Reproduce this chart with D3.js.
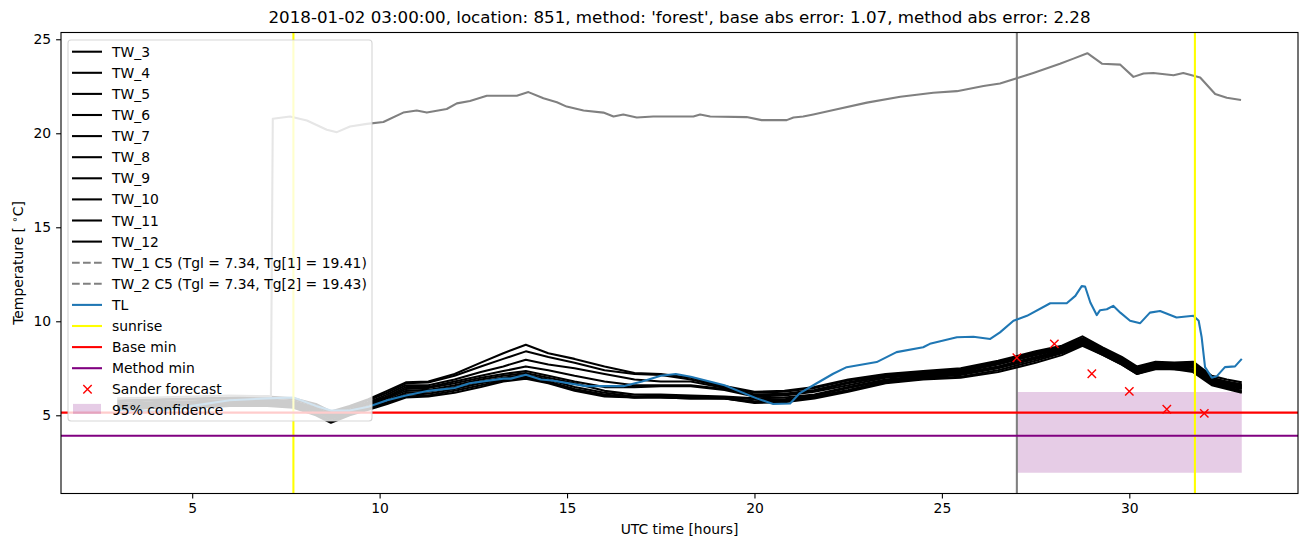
<!DOCTYPE html>
<html>
<head>
<meta charset="utf-8">
<script src="https://cdn.jsdelivr.net/npm/d3@7"></script>
<style>
  body { margin: 0; background: #fff; }
  text { font-family: "DejaVu Sans", sans-serif; fill: #000; }
</style>
</head>
<body>
<svg id="chart" width="1310" height="547"></svg>
<script>
// ---- data ----
const TITLE = "2018-01-02 03:00:00, location: 851, method: 'forest', base abs error: 1.07, method abs error: 2.28";

const twHours = [3, 4, 5, 6, 7, 7.7, 8.3, 8.7, 9.2, 9.7, 10.2, 10.7, 11.3, 12, 12.7, 13.3, 13.9, 14.5, 15.2, 16,
  16.8, 17.5, 18.3, 19.2, 20, 20.8, 21.6, 22.5, 23.5, 24.5, 25.5, 26.5, 27.5, 28.2, 28.75, 29.3, 29.8, 30.2, 30.7,
  31.2, 31.7, 32.2, 32.6, 33];

const tw3 = [5.8, 5.85, 5.9, 5.95, 6.0, 5.9, 5.6, 5.2, 5.5, 5.85, 6.3, 6.75, 6.8, 7.2, 7.8, 8.3, 8.75, 8.3, 8.0, 7.6,
  7.25, 7.2, 7.0, 6.55, 6.25, 6.3, 6.5, 6.9, 7.2, 7.35, 7.5, 7.9, 8.4, 8.7, 9.2, 8.6, 8.1, 7.6, 7.85, 7.8, 7.85, 7.1, 6.9, 6.75];
const tw4 = [5.7, 5.8, 5.85, 5.9, 5.95, 5.85, 5.5, 5.1, 5.45, 5.8, 6.2, 6.7, 6.75, 7.1, 7.6, 8.0, 8.4, 8.1, 7.8, 7.4,
  7.2, 7.15, 6.9, 6.5, 6.2, 6.25, 6.45, 6.85, 7.15, 7.3, 7.45, 7.85, 8.35, 8.65, 9.1, 8.55, 8.05, 7.55, 7.8, 7.75, 7.8, 7.0, 6.8, 6.65];
const tw5 = [5.6, 5.7, 5.75, 5.8, 5.85, 5.75, 5.4, 5.0, 5.4, 5.7, 6.1, 6.6, 6.6, 6.9, 7.3, 7.6, 7.95, 7.7, 7.5, 7.2,
  6.9, 6.8, 6.8, 6.45, 6.1, 6.15, 6.35, 6.75, 7.1, 7.25, 7.4, 7.8, 8.3, 8.6, 9.05, 8.5, 8.0, 7.5, 7.75, 7.7, 7.75, 6.95, 6.75, 6.6];
const tw6 = [5.55, 5.65, 5.7, 5.75, 5.8, 5.7, 5.35, 4.95, 5.3, 5.65, 6.0, 6.5, 6.5, 6.8, 7.1, 7.35, 7.6, 7.4, 7.1, 6.8,
  6.6, 6.6, 6.6, 6.4, 6.05, 6.1, 6.3, 6.7, 7.05, 7.2, 7.35, 7.75, 8.25, 8.55, 9.0, 8.45, 7.95, 7.45, 7.7, 7.65, 7.7, 6.9, 6.7, 6.55];
const tw7 = [5.5, 5.6, 5.65, 5.7, 5.75, 5.65, 5.3, 4.9, 5.25, 5.6, 5.95, 6.4, 6.45, 6.7, 7.0, 7.2, 7.35, 7.1, 6.8, 6.5,
  6.5, 6.55, 6.55, 6.35, 6.0, 6.05, 6.25, 6.6, 7.0, 7.15, 7.3, 7.7, 8.2, 8.5, 8.95, 8.4, 7.9, 7.4, 7.65, 7.6, 7.65, 6.85, 6.65, 6.5];
const tw8 = [5.45, 5.55, 5.6, 5.65, 5.7, 5.6, 5.25, 4.85, 5.2, 5.5, 5.9, 6.3, 6.35, 6.6, 6.9, 7.1, 7.25, 7.0, 6.7, 6.3,
  6.1, 6.1, 6.05, 6.0, 5.9, 5.95, 6.1, 6.5, 6.9, 7.1, 7.25, 7.6, 8.1, 8.45, 8.9, 8.35, 7.85, 7.35, 7.6, 7.55, 7.6, 6.8, 6.6, 6.45];
const tw9 = [5.4, 5.5, 5.55, 5.6, 5.65, 5.55, 5.2, 4.8, 5.15, 5.45, 5.8, 6.2, 6.25, 6.5, 6.8, 7.0, 7.15, 6.9, 6.5, 6.2,
  6.0, 6.05, 6.0, 5.95, 5.85, 5.85, 6.05, 6.45, 6.85, 7.05, 7.2, 7.55, 8.05, 8.4, 8.85, 8.3, 7.8, 7.3, 7.55, 7.5, 7.55, 6.75, 6.55, 6.4];
const tw10 = [5.35, 5.45, 5.5, 5.55, 5.6, 5.5, 5.1, 4.7, 5.1, 5.4, 5.7, 6.1, 6.15, 6.4, 6.7, 6.9, 7.05, 6.8, 6.4, 6.1,
  5.95, 6.0, 5.95, 5.9, 5.75, 5.8, 6.0, 6.35, 6.8, 7.0, 7.15, 7.5, 8.0, 8.35, 8.8, 8.25, 7.75, 7.25, 7.5, 7.5, 7.45, 6.7, 6.5, 6.3];
const tw11 = [5.3, 5.4, 5.45, 5.5, 5.55, 5.45, 5.05, 4.65, 5.05, 5.35, 5.65, 6.0, 6.05, 6.3, 6.6, 6.85, 7.0, 6.75, 6.35, 6.05,
  5.95, 5.95, 5.9, 5.9, 5.7, 5.75, 5.95, 6.3, 6.75, 6.95, 7.05, 7.4, 7.9, 8.3, 8.75, 8.2, 7.7, 7.2, 7.5, 7.45, 7.4, 6.65, 6.45, 6.25];
const tw12 = [5.3, 5.4, 5.4, 5.5, 5.5, 5.4, 5.0, 4.6, 5.0, 5.3, 5.6, 5.95, 6.0, 6.2, 6.5, 6.8, 6.95, 6.7, 6.3, 6.0,
  5.95, 5.95, 5.9, 5.9, 5.65, 5.7, 5.9, 6.25, 6.7, 6.9, 7.0, 7.3, 7.8, 8.2, 8.7, 8.2, 7.7, 7.2, 7.45, 7.45, 7.3, 6.6, 6.4, 6.2];

const twNames = ["TW_3", "TW_4", "TW_5", "TW_6", "TW_7", "TW_8", "TW_9", "TW_10", "TW_11", "TW_12"];
const twValues = [tw3, tw4, tw5, tw6, tw7, tw8, tw9, tw10, tw11, tw12];

const grayHours = [3, 4, 5, 6, 7.1, 7.15, 7.61, 8.06, 8.59, 8.86, 9.21, 9.66, 10.1, 10.63, 10.99, 11.26, 11.79, 12.06,
  12.41, 12.86, 13.66, 13.97, 14.37, 14.73, 14.99, 15.44, 15.97, 16.24, 16.5, 16.86, 17.3, 18.37, 18.55, 18.82, 19.79,
  20.19, 20.86, 21.04, 21.3, 21.57, 22.11, 23.0, 23.89, 24.77, 25.4, 26.11, 26.55, 27.04, 27.44, 28.15, 28.51, 28.88,
  29.27, 29.76, 30.11, 30.38, 30.64, 31.18, 31.44, 31.89, 32.29, 32.6, 32.98];
const grayTemps = [5.9, 5.95, 6.0, 6.05, 6.0, 20.77, 20.89, 20.68, 20.19, 20.06, 20.36, 20.5, 20.6, 21.1, 21.21, 21.1,
  21.29, 21.59, 21.72, 22.0, 22.0, 22.19, 21.86, 21.65, 21.42, 21.21, 21.1, 20.89, 21.0, 20.84, 20.89, 20.89, 21.0,
  20.89, 20.86, 20.7, 20.7, 20.84, 20.89, 21.0, 21.24, 21.63, 21.94, 22.16, 22.24, 22.51, 22.65, 22.95, 23.21, 23.7,
  23.97, 24.26, 23.7, 23.65, 23.0, 23.18, 23.21, 23.09, 23.21, 22.97, 22.09, 21.89, 21.77];

const tlHours = [3, 4, 5, 6, 7, 7.7, 8.3, 8.7, 9.2, 9.7, 10.2, 10.7, 11.3, 12, 12.4, 13.3, 13.5, 13.9, 14.3, 14.6, 15.5,
  16.5, 17.0, 17.5, 17.9, 18.3, 19.2, 20.06, 20.5, 20.95, 21.2, 21.65, 22.1, 22.46, 23.26, 23.79, 24.5, 24.68, 25.4,
  25.84, 26.29, 26.55, 26.91, 27.27, 27.89, 28.33, 28.56, 28.73, 28.82, 28.96, 29.13, 29.22, 29.4, 29.57, 29.76, 30.02,
  30.29, 30.55, 30.82, 31.26, 31.71, 31.85, 31.93, 32.02, 32.2, 32.33, 32.55, 32.82, 33.0];
const tlTemps = [5.3, 5.2, 5.5, 5.8, 5.9, 5.95, 5.5, 5.25, 5.25, 5.45, 5.8, 6.05, 6.3, 6.45, 6.7, 6.95, 6.95, 7.15, 6.9,
  6.85, 6.55, 6.55, 6.8, 7.1, 7.2, 7.05, 6.6, 5.9, 5.6, 5.63, 6.16, 6.69, 7.21, 7.56, 7.83, 8.36, 8.62, 8.8, 9.15, 9.18,
  9.06, 9.41, 10.03, 10.29, 10.96, 10.96, 11.35, 11.87, 11.85, 11.0, 10.33, 10.59, 10.64, 10.82, 10.46, 10.03, 9.9,
  10.46, 10.55, 10.2, 10.29, 10.03, 9.15, 7.56, 7.0, 7.07, 7.56, 7.6, 8.0];

const sunriseHours = [7.7, 31.75];
const forecastHour = 27;
const baseMin = 5.14;
const methodMin = 3.91;
const sanderHours = [27, 28, 29, 30, 31, 32];
const sanderTemps = [8.06, 8.8, 7.21, 6.27, 5.32, 5.1];
const confHours = [27, 33];
const confLow = [1.95, 1.95];
const confHigh = [6.24, 6.24];

const xTicks = [5, 10, 15, 20, 25, 30];
const yTicks = [5, 10, 15, 20, 25];

const legendItems = [
  ...twNames.map(n => ({ label: n, kind: 'line', color: '#000' })),
  { label: 'TW_1 C5 (Tgl = 7.34, Tg[1] = 19.41)', kind: 'dash', color: '#808080' },
  { label: 'TW_2 C5 (Tgl = 7.34, Tg[2] = 19.43)', kind: 'dash', color: '#808080' },
  { label: 'TL', kind: 'line', color: '#1f77b4' },
  { label: 'sunrise', kind: 'line', color: '#ffff00' },
  { label: 'Base min', kind: 'line', color: '#ff0000' },
  { label: 'Method min', kind: 'line', color: '#800080' },
  { label: 'Sander forecast', kind: 'x', color: '#ff0000' },
  { label: '95% confidence', kind: 'patch', color: 'rgba(128,0,128,0.2)' },
];

// ---- layout ----
const plot = { left: 61, right: 1298, top: 32.5, bottom: 493.5 };
const LW = 2.08;  // 1.5pt

const svg = d3.select('#chart');

const x = d3.scaleLinear().domain([1.5, 34.5]).range([plot.left, plot.right]);
const y = d3.scaleLinear().domain([0.84, 25.36]).range([plot.bottom, plot.top]);

const line = d3.line().x(d => x(d[0])).y(d => y(d[1]));
const pairs = (hs, vs) => hs.map((h, i) => [h, vs[i]]);

const g = svg.append('g');

// confidence band (below lines)
g.append('path')
  .attr('d', d3.area().x(d => x(d[0])).y0(d => y(d[1])).y1(d => y(d[2]))(
    confHours.map((h, i) => [h, confLow[i], confHigh[i]])))
  .attr('fill', 'rgba(128,0,128,0.2)');

// forecast time marker
g.append('line')
  .attr('x1', x(forecastHour)).attr('x2', x(forecastHour))
  .attr('y1', plot.top).attr('y2', plot.bottom)
  .attr('stroke', '#808080').attr('stroke-width', LW);

// wall sensor lines
g.selectAll('path.tw')
  .data(twValues)
  .enter()
  .append('path')
  .attr('class', 'tw')
  .attr('d', vs => line(pairs(twHours, vs)))
  .attr('fill', 'none')
  .attr('stroke', '#000')
  .attr('stroke-width', LW)
  .attr('stroke-linejoin', 'round');

g.append('path')
  .attr('d', line(pairs(grayHours, grayTemps)))
  .attr('fill', 'none').attr('stroke', '#808080').attr('stroke-width', LW)
  .attr('stroke-linejoin', 'round');

g.append('path')
  .attr('d', line(pairs(tlHours, tlTemps)))
  .attr('fill', 'none').attr('stroke', '#1f77b4').attr('stroke-width', LW)
  .attr('stroke-linejoin', 'round');

// sunrise
g.selectAll('line.sunrise')
  .data(sunriseHours)
  .enter()
  .append('line')
  .attr('class', 'sunrise')
  .attr('x1', d => x(d)).attr('x2', d => x(d))
  .attr('y1', plot.top).attr('y2', plot.bottom)
  .attr('stroke', '#ffff00').attr('stroke-width', LW);

// horizontal minima
[[baseMin, '#ff0000'], [methodMin, '#800080']].forEach(([v, c]) => {
  g.append('line')
    .attr('x1', plot.left).attr('x2', plot.right)
    .attr('y1', y(v)).attr('y2', y(v))
    .attr('stroke', c).attr('stroke-width', LW);
});

// Sander forecast markers
const xMark = (sel, size) => sel
  .attr('d', `M${-size},${-size}L${size},${size}M${-size},${size}L${size},${-size}`)
  .attr('stroke', '#ff0000').attr('stroke-width', 1.4).attr('fill', 'none');

g.selectAll('path.sander')
  .data(sanderHours.map((h, i) => [h, sanderTemps[i]]))
  .enter()
  .append('path')
  .attr('class', 'sander')
  .attr('transform', d => `translate(${x(d[0])},${y(d[1])})`)
  .call(xMark, 4.2);

// ---- axes ----
const fs = 13.9;
const xAxis = svg.append('g')
  .attr('transform', `translate(0,${plot.bottom})`)
  .call(d3.axisBottom(x).tickValues(xTicks).tickSize(4.9).tickPadding(4.9).tickFormat(d3.format('d')));
const yAxis = svg.append('g')
  .attr('transform', `translate(${plot.left},0)`)
  .call(d3.axisLeft(y).tickValues(yTicks).tickSize(4.9).tickPadding(4.9).tickFormat(d3.format('d')));

[xAxis, yAxis].forEach(a => {
  a.select('.domain').remove();
  a.selectAll('.tick line').attr('stroke', '#000').attr('stroke-width', 1.1);
  a.selectAll('.tick text')
    .attr('font-family', '"DejaVu Sans", sans-serif')
    .attr('font-size', fs)
    .attr('fill', '#000');
});

// frame
svg.append('rect')
  .attr('x', plot.left).attr('y', plot.top)
  .attr('width', plot.right - plot.left).attr('height', plot.bottom - plot.top)
  .attr('fill', 'none').attr('stroke', '#000').attr('stroke-width', 1.1);

// labels
svg.append('text')
  .attr('x', (plot.left + plot.right) / 2).attr('y', 23)
  .attr('text-anchor', 'middle')
  .attr('font-size', 16.7)
  .text(TITLE);

svg.append('text')
  .attr('x', (plot.left + plot.right) / 2).attr('y', 534)
  .attr('text-anchor', 'middle')
  .attr('font-size', fs)
  .text('UTC time [hours]');

const yl = svg.append('text')
  .attr('transform', `translate(23,${(plot.top + plot.bottom) / 2}) rotate(-90)`)
  .attr('text-anchor', 'middle')
  .attr('font-size', fs);
yl.append('tspan').text('Temperature [ ');
yl.append('tspan').attr('font-size', 10).attr('dy', -5).text('\u2218');
yl.append('tspan').attr('dy', 5).text('C]');

// ---- legend ----
const lg = svg.append('g');
lg.append('rect')
  .attr('x', 68).attr('y', 40).attr('width', 304).attr('height', 381)
  .attr('rx', 3).attr('ry', 3)
  .attr('fill', 'rgba(255,255,255,0.8)')
  .attr('stroke', 'rgba(204,204,204,0.8)').attr('stroke-width', 1.1);

const rowY = i => 51.7 + i * 21.1;
const items = lg.selectAll('g.item')
  .data(legendItems)
  .enter()
  .append('g')
  .attr('class', 'item')
  .attr('transform', (d, i) => `translate(0,${rowY(i)})`);

items.filter(d => d.kind === 'line' || d.kind === 'dash')
  .append('line')
  .attr('x1', 72).attr('x2', 102).attr('y1', 0).attr('y2', 0)
  .attr('stroke', d => d.color).attr('stroke-width', LW)
  .attr('stroke-dasharray', d => d.kind === 'dash' ? '7.7,3.3' : null);

items.filter(d => d.kind === 'x')
  .append('path')
  .attr('transform', 'translate(87.5,0)')
  .call(xMark, 4.2);

items.filter(d => d.kind === 'patch')
  .append('rect')
  .attr('x', 73).attr('y', -6.5).attr('width', 28).attr('height', 10)
  .attr('fill', d => d.color);

items.append('text')
  .attr('x', 112).attr('y', 0).attr('dy', '0.36em')
  .attr('font-size', fs)
  .text(d => d.label);
</script>
</body>
</html>
